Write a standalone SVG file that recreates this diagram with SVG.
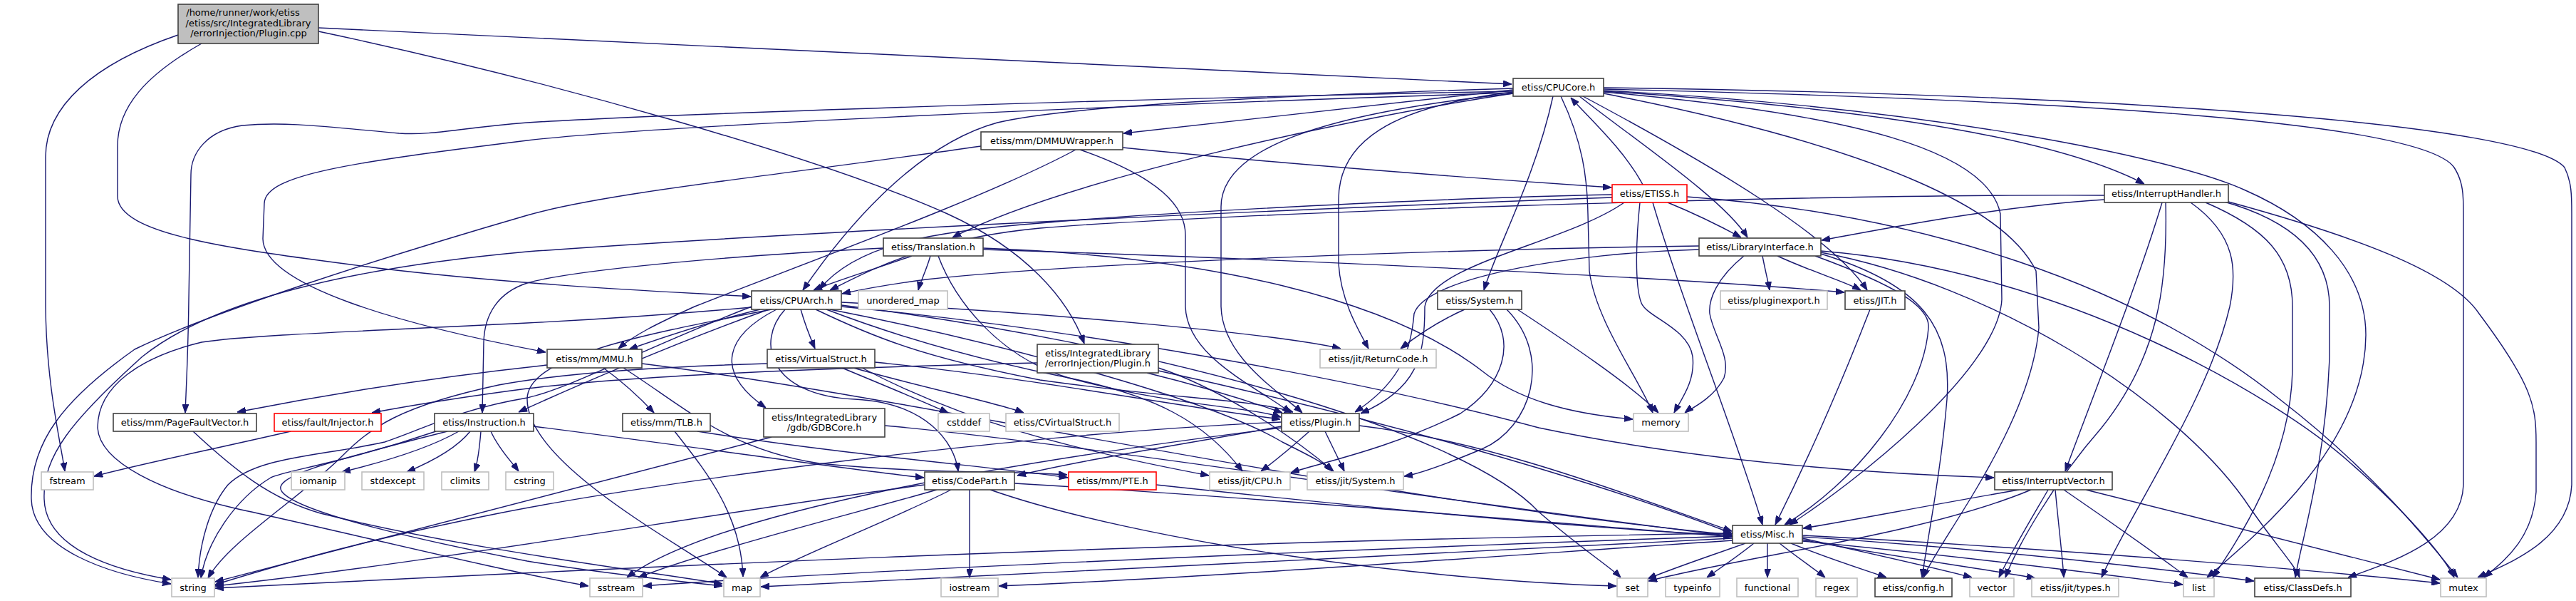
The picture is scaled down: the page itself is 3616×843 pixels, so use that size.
<svg xmlns="http://www.w3.org/2000/svg" width="3616" height="843" viewBox="0 0 3616 843">
<defs>
<style>
.e path{fill:none;stroke:#191970;stroke-width:1.4}
.n rect{fill:#fff;stroke:#404040;stroke-width:1.6}
.g rect{fill:#fff;stroke:#bfbfbf;stroke-width:1.6}
.r rect{fill:#fff;stroke:#ff0000;stroke-width:1.6}
.rt rect{fill:#bfbfbf;stroke:#404040;stroke-width:1.6}
text{font-family:"DejaVu Sans","Liberation Sans",sans-serif;font-size:13px;fill:#000;text-anchor:middle}
</style>
<marker id="a" markerUnits="userSpaceOnUse" markerWidth="12" markerHeight="9" refX="12" refY="4.5" orient="auto">
<path d="M0,0 L12,4.5 L0,9 z" fill="#191970" stroke="#191970" stroke-width="1"/>
</marker>
</defs>
<rect width="3616" height="843" fill="#fff"/>
<g id="edges" class="e" marker-end="url(#a)">
<path d="M447,39 C900,62 1700,96 2122,118"/>
<path d="M447,44 C760,110 1150,220 1330,300 C1440,350 1500,420 1522,482"/>
<path d="M250,49 C130,90 64,150 64,220 L64,430 C65,540 85,620 91,661"/>
<path d="M283,61 C205,105 165,150 165,205 L165,275 C165,330 330,350 530,376 C750,402 960,410 1054,416"/>
<path d="M2124,126 C1900,150 1700,172 1577,187"/>
<path d="M2124,128 C1500,140 900,162 740,172 C640,180 610,190 560,187 C460,178 400,170 340,176 C290,183 268,215 268,245 L265,420 C264,500 261,550 260,579"/>
<path d="M2124,130 C1500,150 900,178 740,197 C490,228 373,245 371,285 L369,335 C370,400 560,455 766,494"/>
<path d="M2124,131 C1900,165 1500,250 1337,333"/>
<path d="M2124,124 C1800,134 1500,148 1400,172 C1280,205 1180,330 1127,407"/>
<path d="M2180,135 C2155,250 2100,350 2083,407"/>
<path d="M2124,129 C1950,150 1879,200 1879,280 L1879,370 C1882,420 1905,460 1921,489"/>
<path d="M2124,131 C1850,160 1714,210 1714,290 L1714,430 C1716,500 1790,545 1828,579"/>
<path d="M2217,135 C2300,200 2420,280 2453,333"/>
<path d="M2222,135 C2400,230 2570,330 2621,407"/>
<path d="M2251,128 C2600,150 2880,190 3010,258"/>
<path d="M2251,127 C2700,150 3050,220 3152,267 C3250,310 3321,380 3321,470 C3320,620 3180,740 3098,810"/>
<path d="M2251,125 C2900,140 3400,170 3445,235 C3458,255 3458,275 3458,300 L3458,680 C3455,760 3350,790 3296,810"/>
<path d="M2251,123 C3000,133 3550,175 3600,235 C3610,255 3610,275 3610,300 L3610,680 C3606,760 3520,790 3478,810"/>
<path d="M2191,135 C2222,200 2228,250 2229,300 L2231,380 C2240,450 2300,530 2320,579"/>
<path d="M2251,129 C2600,160 2790,210 2808,300 L2810,420 C2805,520 2600,680 2512,736"/>
<path d="M2251,131 C2500,180 2800,260 2858,380 L2862,460 C2850,600 2720,760 2700,810"/>
<path d="M1576,207 C1800,230 2100,252 2262,263"/>
<path d="M1510,210 C1380,280 1100,380 975,430 C920,455 890,470 868,489"/>
<path d="M1516,210 C1630,250 1664,290 1664,330 L1664,430 C1666,500 1760,540 1812,579"/>
<path d="M1377,205 C1100,245 850,270 740,302 C540,360 290,440 189,490 C90,560 42,620 44,700 C46,770 150,805 240,819"/>
<path d="M2306,259 C2280,210 2230,165 2205,137"/>
<path d="M2341,284 C2380,300 2420,320 2444,333"/>
<path d="M2263,273 C2000,278 1600,300 1460,313 C1300,325 1200,345 1150,406"/>
<path d="M2263,277 C1900,290 1200,320 740,353 C500,375 300,420 200,500 C100,590 60,640 62,700 C64,770 160,800 240,813"/>
<path d="M2302,284 C2297,330 2294,400 2304,425 C2312,445 2370,460 2376,500 C2380,535 2360,560 2350,579"/>
<path d="M2320,284 C2360,420 2440,620 2474,736"/>
<path d="M2280,284 C2200,340 2010,370 2000,430 C2000,500 1990,545 1910,580"/>
<path d="M2368,276 C2700,300 3000,400 3200,560 C3330,660 3410,760 3450,810"/>
<path d="M2385,350 C2200,355 2000,390 1985,440 C1980,500 1960,540 1902,578"/>
<path d="M2385,345 C2000,350 1500,370 1300,392 C1240,400 1200,408 1182,412"/>
<path d="M2474,359 C2478,380 2482,395 2484,407"/>
<path d="M2495,359 C2540,380 2590,395 2612,407"/>
<path d="M2448,359 C2410,390 2398,420 2400,440 C2405,470 2430,500 2420,530 C2405,560 2370,575 2365,579"/>
<path d="M2548,359 C2660,400 2710,430 2707,460 C2700,560 2600,680 2505,736"/>
<path d="M2556,356 C2700,400 2740,460 2733,560 C2725,660 2705,760 2698,810"/>
<path d="M2556,354 C2800,400 3050,560 3150,700 C3190,760 3220,790 3228,810"/>
<path d="M2556,352 C2900,380 3200,560 3300,650 C3380,720 3430,780 3445,810"/>
<path d="M1280,359 C1220,380 1170,395 1142,407"/>
<path d="M1306,359 C1300,380 1292,395 1289,407"/>
<path d="M1380,350 C1700,360 2300,385 2589,410"/>
<path d="M1380,348 C1700,360 1950,420 2080,520 C2130,560 2200,580 2292,588"/>
<path d="M1240,348 C1000,360 800,380 740,397 C700,410 680,440 679,480 L677,579"/>
<path d="M1317,359 C1340,420 1400,500 1500,530 C1650,570 1750,570 1798,585"/>
<path d="M1067,434 C1000,450 940,470 883,490"/>
<path d="M1079,434 C950,480 800,545 728,578"/>
<path d="M1090,434 C1020,470 1000,520 1075,572"/>
<path d="M1102,434 C1060,480 1080,555 1200,560 C1300,565 1340,620 1345,661"/>
<path d="M1124,434 C1130,455 1138,475 1144,489"/>
<path d="M1083,434 C900,470 740,500 740,560 C740,650 950,760 1020,810"/>
<path d="M1145,434 C1220,470 1290,500 1460,533 C1650,560 1760,560 1815,578"/>
<path d="M1181,424 C1500,440 1800,470 1882,489"/>
<path d="M1181,430 C1500,460 1900,530 2160,600 C2400,650 2650,665 2799,670"/>
<path d="M1160,434 C1280,480 1400,510 1500,530 C1620,555 1690,590 1744,661"/>
<path d="M1165,434 C1400,480 1700,560 1800,620 C1840,640 1860,650 1870,661"/>
<path d="M1055,430 C900,490 800,545 740,558 C640,575 600,600 540,620 C450,640 360,640 320,680 C295,710 280,760 278,810"/>
<path d="M1055,431 C900,445 800,450 740,453 C500,465 350,470 283,480 C200,500 137,540 137,600 C140,650 230,690 330,713 C500,750 700,800 826,822"/>
<path d="M1181,428 C1600,480 2050,600 2160,718 C2220,770 2260,795 2275,810"/>
<path d="M1182,516 C1240,540 1300,565 1331,579"/>
<path d="M1198,516 C1300,545 1400,565 1437,579"/>
<path d="M1077,510 C900,515 780,525 700,540 C560,570 520,600 480,640 C420,700 320,760 292,811"/>
<path d="M1228,508 C1450,530 1650,570 1797,588"/>
<path d="M1210,516 C1350,590 1500,630 1697,667"/>
<path d="M847,516 C880,540 905,565 918,579"/>
<path d="M768,512 C600,530 450,555 333,578"/>
<path d="M875,516 C960,570 1020,630 1150,650 C1300,665 1420,660 1498,666"/>
<path d="M901,510 C1300,560 1900,700 2431,750"/>
<path d="M979,605 C1200,640 1400,655 1499,670"/>
<path d="M947,605 C990,660 1040,720 1043,809"/>
<path d="M1083,613 C900,660 600,740 302,816"/>
<path d="M1242,597 C1500,620 2000,700 2431,752"/>
<path d="M1610,523 C1700,545 1760,565 1800,579"/>
<path d="M1456,509 C1200,515 900,525 740,545 C640,558 570,570 522,579"/>
<path d="M1626,516 C1700,540 1800,600 1872,661"/>
<path d="M1626,520 C1900,580 2200,660 2431,748"/>
<path d="M408,605 C300,630 200,650 132,668"/>
<path d="M644,605 C600,630 530,650 480,662"/>
<path d="M660,605 C640,630 600,650 571,662"/>
<path d="M675,605 C673,630 670,650 666,662"/>
<path d="M689,605 C700,630 720,650 728,661"/>
<path d="M612,605 C480,650 400,660 380,670 C330,700 290,760 282,811"/>
<path d="M628,605 C450,650 380,670 396,690 C420,720 600,760 740,787 C850,805 950,815 1014,822"/>
<path d="M749,598 C1000,630 1200,660 1297,670"/>
<path d="M271,605 C330,660 380,700 450,720 C650,770 900,800 1014,819"/>
<path d="M1838,605 C1810,630 1785,650 1770,661"/>
<path d="M1860,605 C1872,630 1882,650 1887,661"/>
<path d="M1799,598 C1650,625 1520,645 1428,667"/>
<path d="M1799,592 C1400,610 900,680 700,720 C500,760 400,790 302,820"/>
<path d="M1908,597 C2100,620 2300,700 2431,745"/>
<path d="M1799,600 C1400,650 1000,720 880,810"/>
<path d="M2056,434 C2020,450 1990,470 1966,489"/>
<path d="M2091,434 C2130,480 2110,540 2050,580 C1950,630 1850,650 1812,663"/>
<path d="M2115,434 C2180,500 2150,600 2080,630 C2020,655 1990,665 1971,668"/>
<path d="M2130,434 C2200,480 2290,540 2328,579"/>
<path d="M1298,680 C1000,720 600,790 302,822"/>
<path d="M1315,687 C1200,720 1000,770 896,810"/>
<path d="M1335,687 C1250,730 1120,780 1067,810"/>
<path d="M1361,687 L1361,810"/>
<path d="M1424,678 C1800,700 2200,735 2431,753"/>
<path d="M1390,687 C1600,760 2000,815 2269,822"/>
<path d="M2450,762 C2400,780 2340,800 2313,812"/>
<path d="M2462,762 C2440,780 2410,800 2396,810"/>
<path d="M2481,762 L2481,810"/>
<path d="M2498,762 C2520,780 2550,800 2562,810"/>
<path d="M2514,762 C2570,785 2620,800 2648,810"/>
<path d="M2530,755 C2620,775 2730,800 2768,810"/>
<path d="M2530,757 C2650,780 2800,800 2857,811"/>
<path d="M2530,759 C2750,780 2950,805 3064,820"/>
<path d="M2530,753 C2800,770 3050,800 3164,815"/>
<path d="M2530,751 C2900,770 3250,800 3425,818"/>
<path d="M2432,748 C1600,760 800,800 302,825"/>
<path d="M2432,752 C1900,770 1200,800 903,822"/>
<path d="M2432,755 C2000,775 1400,810 1068,823"/>
<path d="M2432,758 C2100,780 1700,810 1402,822"/>
<path d="M2834,687 C2700,710 2600,730 2531,741"/>
<path d="M2851,687 C2700,750 2450,780 2314,815"/>
<path d="M2875,687 C2850,730 2820,780 2806,810"/>
<path d="M2885,687 C2890,740 2895,780 2897,810"/>
<path d="M2897,687 C2960,730 3030,780 3071,810"/>
<path d="M2928,687 C3100,730 3300,780 3425,813"/>
<path d="M3035,284 C3000,400 2940,550 2899,661"/>
<path d="M2954,280 C2800,290 2650,320 2557,337"/>
<path d="M2954,274 C2500,272 1700,300 1460,320 C1300,335 1220,380 1165,407"/>
<path d="M3040,284 C3043,400 3030,500 2950,600 C2880,680 2830,770 2815,810"/>
<path d="M3075,284 C3140,330 3140,380 3130,430 C3100,560 2990,720 2950,810"/>
<path d="M3096,284 C3180,320 3218,360 3218,430 L3218,520 C3215,650 3140,760 3106,810"/>
<path d="M3119,282 C3220,310 3270,360 3270,430 L3270,500 C3265,650 3230,760 3222,810"/>
<path d="M3128,283 C3300,330 3440,380 3480,440 C3555,540 3560,570 3560,620 L3560,690 C3555,760 3510,790 3487,810"/>
<path d="M2625,434 C2580,550 2530,660 2492,736"/>
<path d="M1623,680 C1900,710 2200,740 2431,751"/>
</g>
<g id="n_root" class="rt"><rect x="250" y="6" width="197" height="55"/><text x="341" y="22">/home/runner/work/etiss</text><text x="348.5" y="37">/etiss/src/IntegratedLibrary</text><text x="349" y="51">/errorInjection/Plugin.cpp</text></g>
<g id="n_cpucore" class="n"><rect x="2124" y="110" width="127" height="25"/><text x="2187.5" y="127">etiss/CPUCore.h</text></g>
<g id="n_dmmu" class="n"><rect x="1377" y="185" width="199" height="25"/><text x="1476.5" y="202">etiss/mm/DMMUWrapper.h</text></g>
<g id="n_etiss" class="r"><rect x="2263" y="259" width="105" height="25"/><text x="2315.5" y="276">etiss/ETISS.h</text></g>
<g id="n_ih" class="n"><rect x="2954" y="259" width="174" height="25"/><text x="3041" y="276">etiss/InterruptHandler.h</text></g>
<g id="n_transl" class="n"><rect x="1240" y="334" width="140" height="25"/><text x="1310" y="351">etiss/Translation.h</text></g>
<g id="n_li" class="n"><rect x="2385" y="334" width="171" height="25"/><text x="2470.5" y="351">etiss/LibraryInterface.h</text></g>
<g id="n_cpuarch" class="n"><rect x="1055" y="408" width="126" height="26"/><text x="1118" y="425.5">etiss/CPUArch.h</text></g>
<g id="n_umap" class="g"><rect x="1205" y="408" width="125" height="26"/><text x="1267.5" y="425.5">unordered_map</text></g>
<g id="n_system" class="n"><rect x="2018" y="408" width="118" height="26"/><text x="2077" y="425.5">etiss/System.h</text></g>
<g id="n_pluginexport" class="g"><rect x="2415" y="408" width="150" height="26"/><text x="2490" y="425.5">etiss/pluginexport.h</text></g>
<g id="n_jit" class="n"><rect x="2590" y="408" width="84" height="26"/><text x="2632" y="425.5">etiss/JIT.h</text></g>
<g id="n_mmu" class="n"><rect x="768" y="490" width="133" height="26"/><text x="834.5" y="507.5">etiss/mm/MMU.h</text></g>
<g id="n_vstruct" class="n"><rect x="1077" y="490" width="151" height="26"/><text x="1152.5" y="507.5">etiss/VirtualStruct.h</text></g>
<g id="n_eip" class="n"><rect x="1456" y="483" width="170" height="40"/><text x="1541" y="499.5">etiss/IntegratedLibrary</text><text x="1541" y="514">/errorInjection/Plugin.h</text></g>
<g id="n_retcode" class="g"><rect x="1853" y="490" width="163" height="26"/><text x="1934.5" y="507.5">etiss/jit/ReturnCode.h</text></g>
<g id="n_pfv" class="n"><rect x="159" y="580" width="201" height="25"/><text x="259.5" y="597">etiss/mm/PageFaultVector.h</text></g>
<g id="n_injector" class="r"><rect x="385" y="580" width="150" height="25"/><text x="460" y="597">etiss/fault/Injector.h</text></g>
<g id="n_instr" class="n"><rect x="610" y="580" width="139" height="25"/><text x="679.5" y="597">etiss/Instruction.h</text></g>
<g id="n_tlb" class="n"><rect x="874" y="580" width="123" height="25"/><text x="935.5" y="597">etiss/mm/TLB.h</text></g>
<g id="n_gdb" class="n"><rect x="1072" y="573" width="170" height="40"/><text x="1157" y="589.5">etiss/IntegratedLibrary</text><text x="1157" y="604">/gdb/GDBCore.h</text></g>
<g id="n_cstddef" class="g"><rect x="1317" y="580" width="72" height="25"/><text x="1353" y="597">cstddef</text></g>
<g id="n_cvs" class="g"><rect x="1412" y="580" width="159" height="25"/><text x="1491.5" y="597">etiss/CVirtualStruct.h</text></g>
<g id="n_plugin" class="n"><rect x="1799" y="580" width="109" height="25"/><text x="1853.5" y="597">etiss/Plugin.h</text></g>
<g id="n_memory" class="g"><rect x="2293" y="580" width="77" height="25"/><text x="2331.5" y="597">memory</text></g>
<g id="n_fstream" class="g"><rect x="58" y="662" width="73" height="25"/><text x="94.5" y="679">fstream</text></g>
<g id="n_iomanip" class="g"><rect x="409" y="662" width="75" height="25"/><text x="446.5" y="679">iomanip</text></g>
<g id="n_stdexcept" class="g"><rect x="508" y="662" width="87" height="25"/><text x="551.5" y="679">stdexcept</text></g>
<g id="n_climits" class="g"><rect x="620" y="662" width="66" height="25"/><text x="653" y="679">climits</text></g>
<g id="n_cstring" class="g"><rect x="710" y="662" width="67" height="25"/><text x="743.5" y="679">cstring</text></g>
<g id="n_codepart" class="n"><rect x="1298" y="662" width="126" height="25"/><text x="1361" y="679">etiss/CodePart.h</text></g>
<g id="n_pte" class="r"><rect x="1500" y="662" width="123" height="25"/><text x="1561.5" y="679">etiss/mm/PTE.h</text></g>
<g id="n_jitcpu" class="g"><rect x="1698" y="662" width="113" height="25"/><text x="1754.5" y="679">etiss/jit/CPU.h</text></g>
<g id="n_jitsystem" class="g"><rect x="1835" y="662" width="135" height="25"/><text x="1902.5" y="679">etiss/jit/System.h</text></g>
<g id="n_iv" class="n"><rect x="2800" y="662" width="165" height="25"/><text x="2882.5" y="679">etiss/InterruptVector.h</text></g>
<g id="n_misc" class="n"><rect x="2432" y="737" width="98" height="25"/><text x="2481" y="754">etiss/Misc.h</text></g>
<g id="n_string" class="g"><rect x="241" y="811" width="60" height="26"/><text x="271" y="828.5">string</text></g>
<g id="n_sstream" class="g"><rect x="828" y="811" width="74" height="26"/><text x="865" y="828.5">sstream</text></g>
<g id="n_map" class="g"><rect x="1016" y="811" width="51" height="26"/><text x="1041.5" y="828.5">map</text></g>
<g id="n_iostream" class="g"><rect x="1321" y="811" width="80" height="26"/><text x="1361" y="828.5">iostream</text></g>
<g id="n_set" class="g"><rect x="2270" y="811" width="43" height="26"/><text x="2291.5" y="828.5">set</text></g>
<g id="n_typeinfo" class="g"><rect x="2338" y="811" width="76" height="26"/><text x="2376" y="828.5">typeinfo</text></g>
<g id="n_functional" class="g"><rect x="2438" y="811" width="86" height="26"/><text x="2481" y="828.5">functional</text></g>
<g id="n_regex" class="g"><rect x="2549" y="811" width="58" height="26"/><text x="2578" y="828.5">regex</text></g>
<g id="n_config" class="n"><rect x="2632" y="811" width="108" height="26"/><text x="2686" y="828.5">etiss/config.h</text></g>
<g id="n_vector" class="g"><rect x="2765" y="811" width="62" height="26"/><text x="2796" y="828.5">vector</text></g>
<g id="n_jittypes" class="g"><rect x="2852" y="811" width="122" height="26"/><text x="2913" y="828.5">etiss/jit/types.h</text></g>
<g id="n_list" class="g"><rect x="3065" y="811" width="43" height="26"/><text x="3086.5" y="828.5">list</text></g>
<g id="n_classdefs" class="n"><rect x="3165" y="811" width="135" height="26"/><text x="3232.5" y="828.5">etiss/ClassDefs.h</text></g>
<g id="n_mutex" class="g"><rect x="3426" y="811" width="64" height="26"/><text x="3458" y="828.5">mutex</text></g>
</svg>
